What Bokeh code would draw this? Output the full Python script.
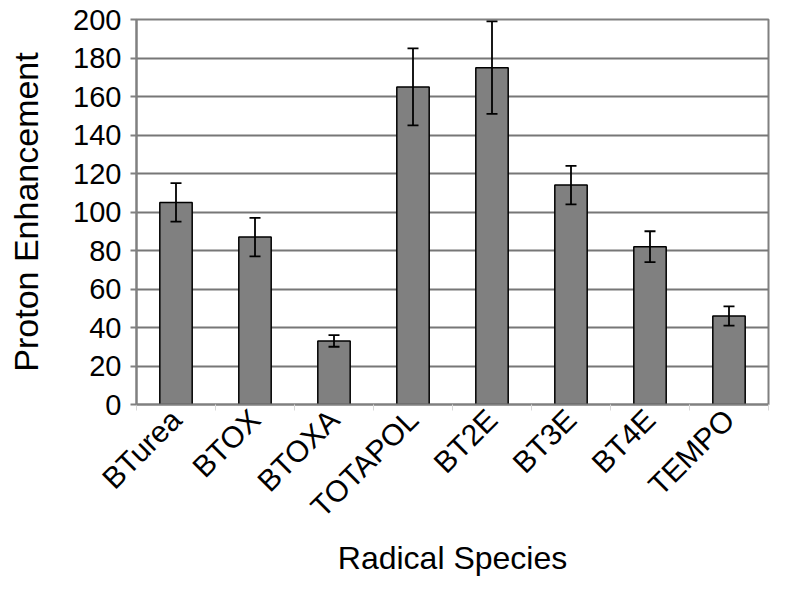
import numpy as np
from bokeh.plotting import figure
from bokeh.models import ColumnDataSource, Whisker, TeeHead, FixedTicker, Range1d
from bokeh.embed import file_html
from bokeh.resources import INLINE

categories = ["BTurea", "BTOX", "BTOXA", "TOTAPOL", "BT2E", "BT3E", "BT4E", "TEMPO"]
enhancement = [105, 87, 33, 165, 175, 114, 82, 46]
error = [10, 10, 3, 20, 24, 10, 8, 5]
y_ticks = [0, 20, 40, 60, 80, 100, 120, 140, 160, 180, 200]

n = len(categories)
xc = np.arange(n) + 0.5
src = ColumnDataSource(dict(
    x=xc, top=enhancement,
    upper=[v + e for v, e in zip(enhancement, error)],
    lower=[v - e for v, e in zip(enhancement, error)],
))

FONT = "Liberation Sans"
GRAY = "#808080"

p = figure(width=784, height=579, output_backend="svg", toolbar_location=None,
           x_range=Range1d(0, n), y_range=Range1d(0, 200),
           min_border_left=136, min_border_right=16, min_border_top=19, min_border_bottom=175)

p.vbar(x="x", top="top", width=0.41, bottom=0, source=src,
       fill_color=GRAY, line_color="black", line_width=1.5)

w = Whisker(source=src, base="x", upper="upper", lower="lower",
            line_color="black", line_width=1.8, level="annotation",
            upper_head=TeeHead(size=11, line_color="black", line_width=1.8),
            lower_head=TeeHead(size=11, line_color="black", line_width=1.8))
p.add_layout(w)

p.outline_line_color = GRAY
p.outline_line_width = 2
p.background_fill_color = "white"
p.border_fill_color = "white"

p.xgrid.grid_line_color = None
p.ygrid.grid_line_color = "#777777"
p.ygrid.grid_line_width = 2
p.ygrid.ticker = FixedTicker(ticks=y_ticks)

# y axis
p.yaxis.ticker = FixedTicker(ticks=y_ticks)
p.yaxis.axis_line_color = GRAY
p.yaxis.axis_line_width = 2
p.yaxis.major_tick_line_color = GRAY
p.yaxis.major_tick_line_width = 2
p.yaxis.major_tick_out = 6
p.yaxis.major_tick_in = 0
p.yaxis.minor_tick_line_color = None
p.yaxis.major_label_standoff = 9
p.yaxis.major_label_text_font = FONT
p.yaxis.major_label_text_font_size = "29px"
p.yaxis.major_label_text_color = "black"
p.yaxis.axis_label = "Proton Enhancement"
p.yaxis.axis_label_text_font = FONT
p.yaxis.axis_label_text_font_size = "34px"
p.yaxis.axis_label_text_font_style = "normal"
p.yaxis.axis_label_text_color = "black"
p.yaxis.axis_label_standoff = 25

# x axis
p.xaxis.ticker = FixedTicker(ticks=list(xc), minor_ticks=list(range(n + 1)))
p.xaxis.major_label_overrides = {float(x): c for x, c in zip(xc, categories)}
p.xaxis.axis_line_color = GRAY
p.xaxis.axis_line_width = 2
p.xaxis.major_tick_line_color = None
p.xaxis.major_tick_out = 0
p.xaxis.major_tick_in = 0
p.xaxis.minor_tick_line_color = "#d8d8d8"
p.xaxis.minor_tick_out = 6
p.xaxis.minor_tick_in = 0
p.xaxis.major_label_orientation = np.pi / 4
p.xaxis.major_label_standoff = 4
p.xaxis.major_label_text_font = FONT
p.xaxis.major_label_text_font_size = "30px"
p.xaxis.major_label_text_color = "black"
p.xaxis.axis_label = "Radical Species"
p.xaxis.axis_label_text_font = FONT
p.xaxis.axis_label_text_font_size = "32px"
p.xaxis.axis_label_text_font_style = "normal"
p.xaxis.axis_label_text_color = "black"
p.xaxis.axis_label_standoff = 2

open("out.html", "w").write(file_html(p, INLINE))
